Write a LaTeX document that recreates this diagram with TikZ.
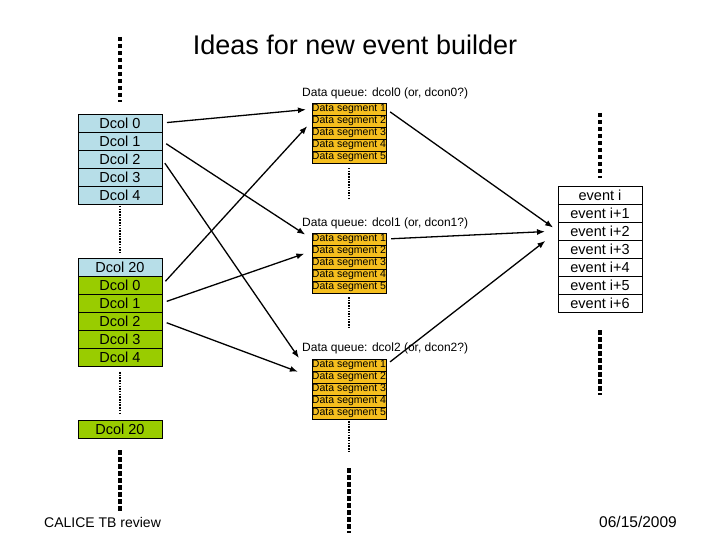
\documentclass[tikz,border=0pt]{standalone}
\usepackage{fontspec}
\setmainfont{Liberation Sans}
\usetikzlibrary{arrows.meta}
\definecolor{dblue}{HTML}{B7DEE8}
\definecolor{dgreen}{HTML}{99CC00}
\definecolor{dorange}{HTML}{F5BE1E}
\begin{document}
\begin{tikzpicture}[x=1pt,y=-1pt,
  cell/.style={draw=black, line width=0.7pt, minimum width=84pt, minimum height=18pt, inner sep=0pt, outer sep=0pt, font=\fontsize{14.5}{16}\selectfont},
  rowblue/.style={cell, fill=dblue},
  rowgreen/.style={cell, fill=dgreen},
  evrow/.style={cell, fill=white},
  seg/.style={draw=black, line width=0.6pt, fill=dorange, minimum width=72pt, minimum height=12pt, inner sep=0pt, outer sep=0pt, font=\fontsize{10.5}{11}\selectfont},
  qlabel/.style={anchor=base west, inner sep=0pt, font=\fontsize{12}{14}\selectfont},
  bigdots/.style={line width=4.5pt, dash pattern=on 4.5pt off 2.5pt},
  smalldots/.style={line width=2pt, dash pattern=on 1.5pt off 1.2pt},
  arr/.style={-{Latex[length=8pt,width=6pt]}, line width=1.3pt}]
\useasboundingbox (0,0) rectangle (720,540);

% title and footer
\node[font=\fontsize{27}{30}\selectfont] (title) at (355,45) {Ideas for new event builder};
\node[anchor=base west, inner sep=0pt, font=\fontsize{14}{16}\selectfont] (foot) at (44,527) {CALICE TB review};
\node[anchor=base east, inner sep=0pt, font=\fontsize{15.5}{17}\selectfont] (date) at (677,527) {06/15/2009};

% left column
\foreach \i/\y in {0/123,1/141,2/159,3/177,4/195}
  \node[rowblue] (a\i) at (120,\y) {Dcol \i};
\node[rowblue] (b20) at (120,267) {Dcol 20};
\foreach \i/\y in {0/285,1/303,2/321,3/339,4/357}
  \node[rowgreen] (b\i) at (120,\y) {Dcol \i};
\node[rowgreen] (c20) at (120,429) {Dcol 20};

% data queues
\node[qlabel] (l0) at (302,97) {Data queue: dcol0 (or, dcon0?)};
\node[qlabel] (l1) at (302,226) {Data queue: dcol1 (or, dcon1?)};
\node[qlabel] (l2) at (302,351) {Data queue: dcol2 (or, dcon2?)};
\foreach \q/\t in {0/103,1/233,2/359}
  \foreach \s in {1,...,5}
    \node[seg] (q\q s\s) at (349,\t+12*\s-6) {Data segment \s};

% events
\node[evrow] (e0) at (600,195) {event i};
\foreach \i/\y in {1/213,2/231,3/249,4/267,5/285,6/303}
  \node[evrow] (e\i) at (600,\y) {event i+\i};

% dotted continuations
\draw[bigdots] (120,37) -- (120,102);
\draw[bigdots] (120,450) -- (120,513);
\draw[bigdots] (600,113) -- (600,178);
\draw[bigdots] (600,330) -- (600,395);
\draw[bigdots] (349,468) -- (349,533);
\draw[smalldots] (120,206) -- (120,252);
\draw[smalldots] (120,372) -- (120,413);
\draw[smalldots] (349,168) -- (349,198);
\draw[smalldots] (349,297) -- (349,327);
\draw[smalldots] (349,421) -- (349,453);

% arrows to queues
\draw[arr, shorten <=5pt, shorten >=6pt] (a0.east) -- (q0s1.west);
\draw[arr, shorten <=5pt, shorten >=8pt] (a1.east) -- (q1s1.west);
\draw[arr, shorten <=5pt, shorten >=23pt] (a2.east) -- (q2s2.west);
\draw[arr, shorten <=5pt, shorten >=7pt] (b0.east) -- (q0s2.west);
\draw[arr, shorten <=5pt, shorten >=8pt] (b1.east) -- (q1s2.west);
\draw[arr, shorten <=5pt, shorten >=15pt] (b2.east) -- (q2s2.west);

% arrows to events
\draw[arr, shorten <=5pt, shorten >=6pt] (q0s1.east) -- (e2.west);
\draw[arr, shorten <=5pt, shorten >=13pt] (q1s1.east) -- (e2.west);
\draw[arr, shorten <=5pt, shorten >=16pt] (q2s1.east) -- (e2.west);
\end{tikzpicture}
\end{document}
